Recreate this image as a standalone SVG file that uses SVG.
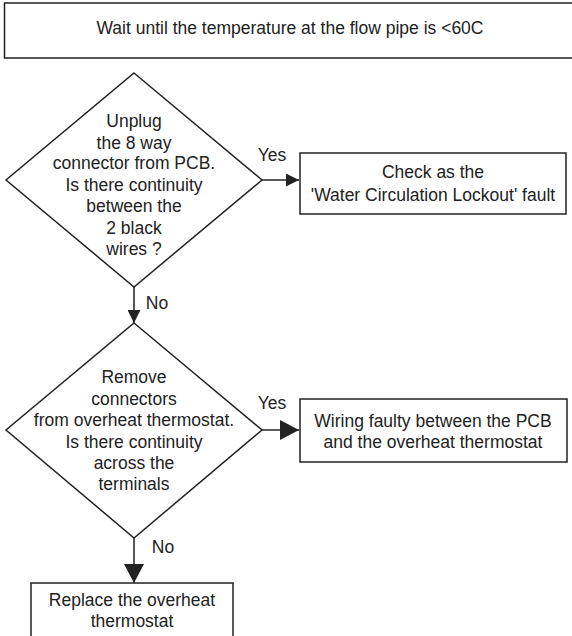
<svg xmlns="http://www.w3.org/2000/svg" width="572" height="636" viewBox="0 0 572 636">
<style>
.s{fill:#fff;stroke:#222;stroke-width:1.5}
.t{font-family:"Liberation Sans",Arial,sans-serif;font-size:17.5px;fill:#222;text-anchor:middle}
.c{fill:none;stroke:#222;stroke-width:1.5}
</style>
<defs>
<marker id="a1" markerUnits="userSpaceOnUse" markerWidth="13" markerHeight="13" viewBox="0 0 13 13" refX="13" refY="6.5" orient="auto"><path d="M0,0 L13,6.5 L0,13 Z" fill="#222"/></marker>
<marker id="a2" markerUnits="userSpaceOnUse" markerWidth="19" markerHeight="20" viewBox="0 0 19 20" refX="19" refY="10" orient="auto"><path d="M0,0 L19,10 L0,20 Z" fill="#222"/></marker>
</defs>
<g id="start">
<rect class="s" x="4.5" y="3" width="575" height="55"/>
<text class="t" x="290" y="34">Wait until the temperature at the flow pipe is &lt;60C</text>
</g>
<g id="d1">
<polygon class="s" points="134,73 262,180 134,287 6,180"/>
<text class="t" x="134" y="127">Unplug</text>
<text class="t" x="134" y="148.5">the 8 way</text>
<text class="t" x="134" y="169">connector from PCB.</text>
<text class="t" x="134" y="190.5">Is there continuity</text>
<text class="t" x="134" y="212">between the</text>
<text class="t" x="134" y="233.5">2 black</text>
<text class="t" x="134" y="255">wires ?</text>
</g>
<g id="b1">
<rect class="s" x="300" y="153" width="266" height="61"/>
<text class="t" x="433" y="178">Check as the</text>
<text class="t" x="433" y="201">'Water Circulation Lockout' fault</text>
</g>
<g id="d2">
<polygon class="s" points="134,323 262,430 134,538 6,430"/>
<text class="t" x="134" y="383">Remove</text>
<text class="t" x="134" y="405">connectors</text>
<text class="t" x="134" y="426">from overheat thermostat.</text>
<text class="t" x="134" y="448">Is there continuity</text>
<text class="t" x="134" y="469">across the</text>
<text class="t" x="134" y="490">terminals</text>
</g>
<g id="b2">
<rect class="s" x="300" y="399" width="267" height="63"/>
<text class="t" x="433" y="427">Wiring faulty between the PCB</text>
<text class="t" x="433" y="448">and the overheat thermostat</text>
</g>
<g id="b3">
<rect class="s" x="31" y="583" width="202" height="60"/>
<text class="t" x="132" y="606">Replace the overheat</text>
<text class="t" x="132" y="627">thermostat</text>
</g>
<g id="connectors">
<line class="c" x1="262" y1="180" x2="299" y2="180" marker-end="url(#a1)"/>
<line class="c" x1="134" y1="287" x2="134" y2="323" marker-end="url(#a1)"/>
<line class="c" x1="262" y1="430" x2="299" y2="430" marker-end="url(#a2)"/>
<line class="c" x1="134" y1="538" x2="134" y2="583" marker-end="url(#a2)"/>
<text class="t" x="272" y="161">Yes</text>
<text class="t" x="157" y="309">No</text>
<text class="t" x="272" y="409">Yes</text>
<text class="t" x="163" y="553">No</text>
</g>
</svg>
